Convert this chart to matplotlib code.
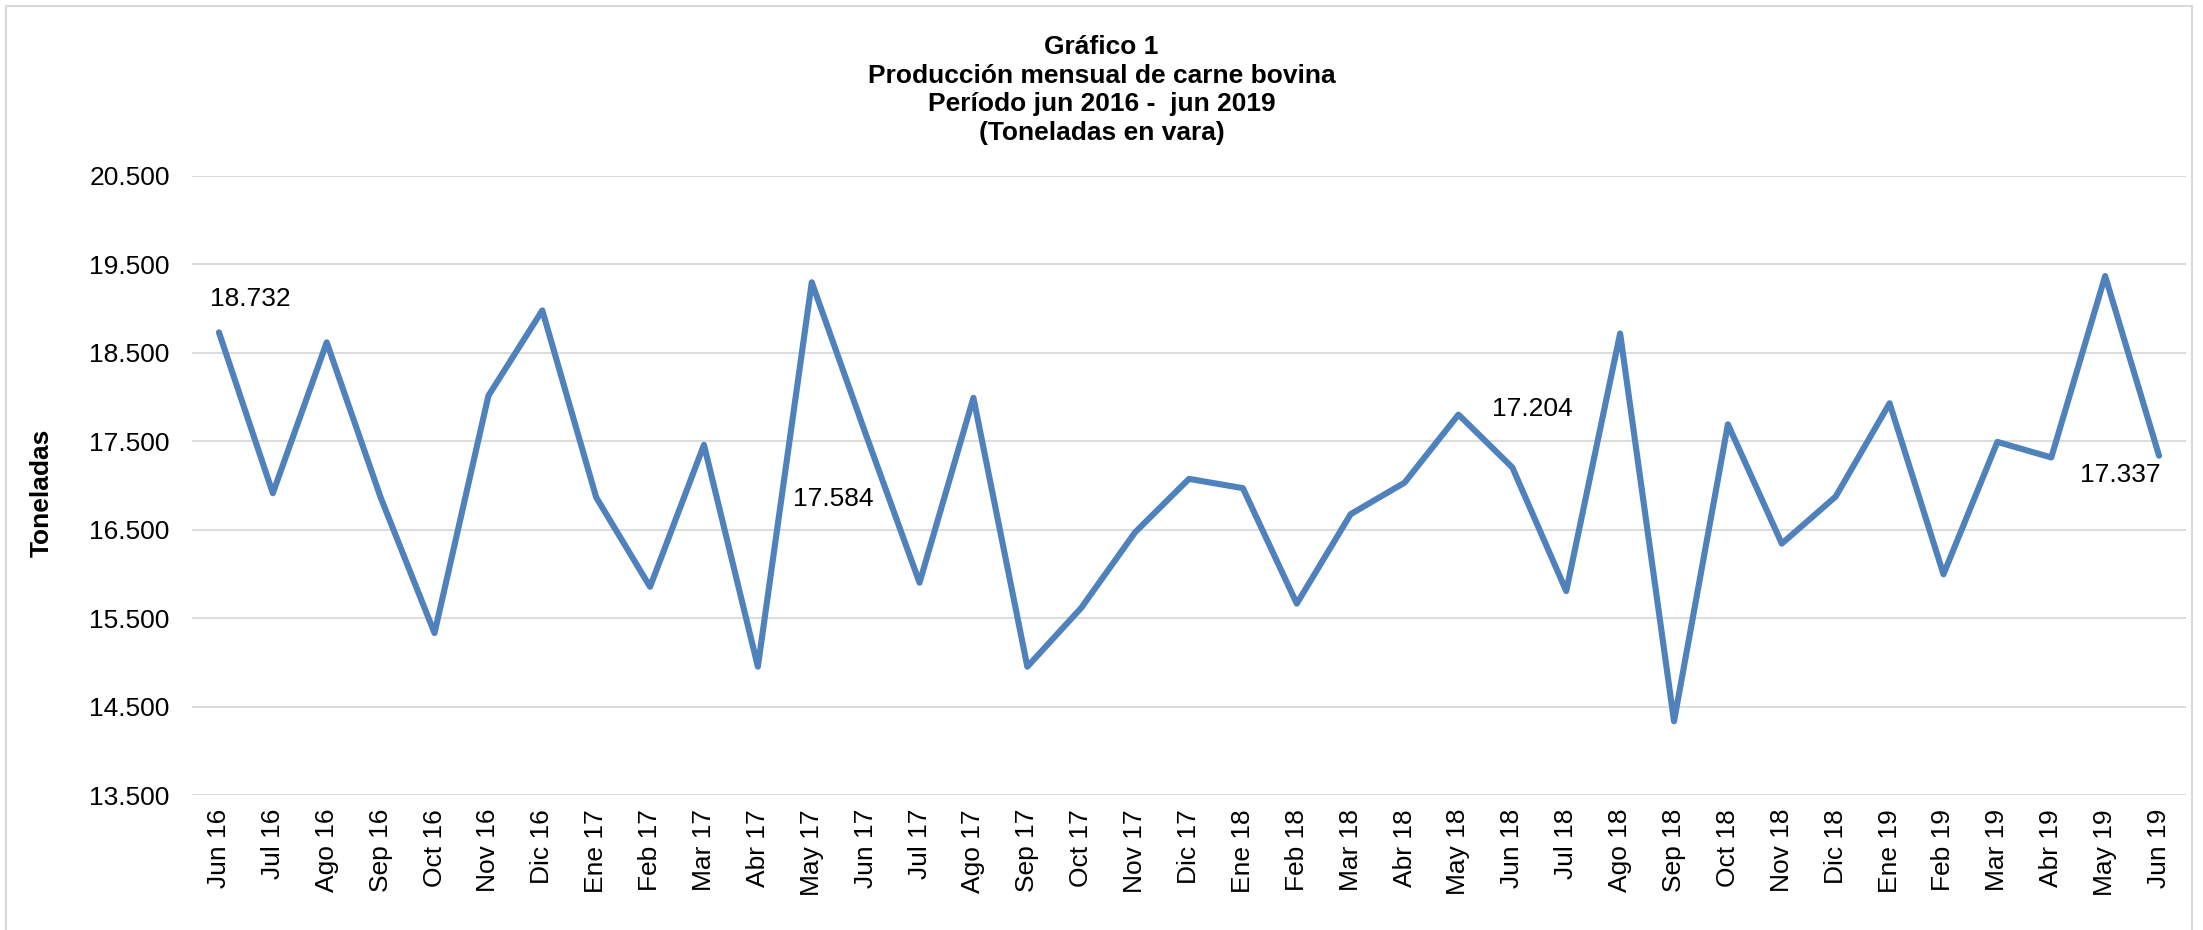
import matplotlib
matplotlib.use("Agg")
import matplotlib.pyplot as plt
from matplotlib.ticker import FuncFormatter

plt.rcParams['font.family'] = ['Liberation Sans', 'DejaVu Sans']

meses = ['Jun 16', 'Jul 16', 'Ago 16', 'Sep 16', 'Oct 16', 'Nov 16', 'Dic 16',
         'Ene 17', 'Feb 17', 'Mar 17', 'Abr 17', 'May 17', 'Jun 17', 'Jul 17',
         'Ago 17', 'Sep 17', 'Oct 17', 'Nov 17', 'Dic 17', 'Ene 18', 'Feb 18',
         'Mar 18', 'Abr 18', 'May 18', 'Jun 18', 'Jul 18', 'Ago 18', 'Sep 18',
         'Oct 18', 'Nov 18', 'Dic 18', 'Ene 19', 'Feb 19', 'Mar 19', 'Abr 19',
         'May 19', 'Jun 19']

# toneladas en vara (junios exactos)
toneladas = [18732, 16913, 18619, 16866, 15331, 18015, 18980,
             16866, 15854, 17460, 14951, 19298, 17584, 15901,
             17992, 14951, 15616, 16471, 17075, 16970, 15664,
             16676, 17032, 17802, 17204, 15806, 18719, 14334,
             17692, 16343, 16875, 17930, 15996, 17493, 17317,
             19369, 17337]

# indices con etiqueta y su desplazamiento (pixeles)
etiquetas = [0, 12, 24, 36]
offsets = [(31, 33), (-32, -65), (20, 58), (-39, -19)]

W, H = 2203, 930
fig = plt.figure(figsize=(W / 100, H / 100), dpi=100)
ax = fig.add_axes([192 / W, 1 - 795 / H, (2186 - 192) / W, (795 - 176) / H])

x = list(range(len(meses)))
ax.plot(x, toneladas, color='#4F81BD', lw=4.4,
        solid_capstyle='round', solid_joinstyle='round', zorder=3)

for i, (dx, dy) in zip(etiquetas, offsets):
    txt = f"{toneladas[i]:,}".replace(',', '.')
    ax.annotate(txt, (x[i], toneladas[i]), xytext=(dx, dy),
                textcoords='offset pixels', ha='center', va='center',
                fontsize=19, color='black')

ax.set_xlim(-0.5, len(meses) - 0.5)
ax.set_ylim(13500, 20500)
ax.set_yticks(range(13500, 20501, 1000))
ax.yaxis.set_major_formatter(FuncFormatter(lambda v, p: f"{int(v):,}".replace(',', '.')))
ax.set_xticks(x)
ax.set_xticklabels(meses, rotation=90)
ax.tick_params(axis='both', length=0, labelsize=19, colors='black')
ax.tick_params(axis='y', pad=16)
ax.tick_params(axis='x', pad=10)
ax.grid(axis='y', color='#D9D9D9', lw=1.3)
ax.set_axisbelow(True)
for s in ax.spines.values():
    s.set_visible(False)

fig.text(0.5, 1 - 35 / H,
         "Gráfico 1\nProducción mensual de carne bovina\n"
         "Período jun 2016 -  jun 2019\n(Toneladas en vara)",
         ha='center', va='top', fontsize=19, fontweight='bold', linespacing=1.25)
fig.text(42 / W, 1 - 493 / H, "Toneladas", rotation=90, ha='center', va='center',
         fontsize=19, fontweight='bold')

fig.patches.append(plt.Rectangle((6 / W, -0.01), (2192 - 6) / W, 1.01 - 6 / H,
                                 transform=fig.transFigure, fill=False,
                                 edgecolor='#D9D9D9', lw=1.5))

fig.savefig('out.png', dpi=100)
